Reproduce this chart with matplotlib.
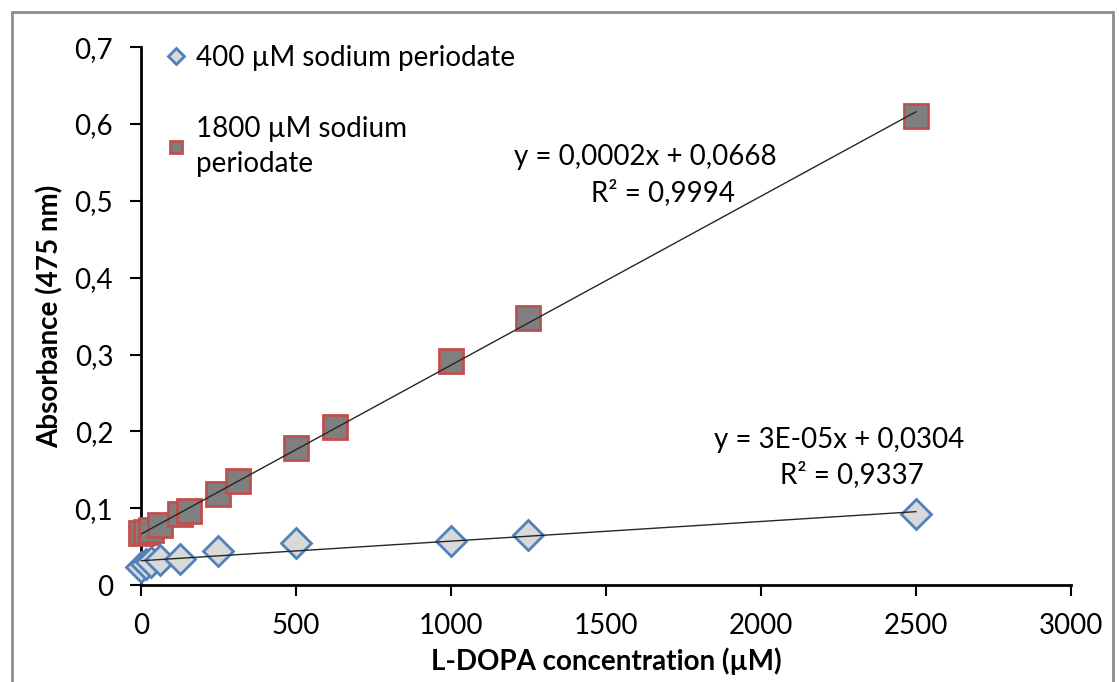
import numpy as np
import matplotlib.pyplot as plt
from matplotlib.patches import Rectangle
from matplotlib.ticker import FuncFormatter, MultipleLocator

plt.rcParams['font.family'] = ['Lato', 'DejaVu Sans']

# L-DOPA concentration (uM) and absorbance at 475 nm
conc_400 = [0, 15.6, 31.25, 62.5, 125, 250, 500, 1000, 1250, 2500]
abs_400 = [0.024, 0.028, 0.030, 0.033, 0.034, 0.045, 0.055, 0.058, 0.065, 0.092]
conc_1800 = [0, 15.6, 31.25, 62.5, 125, 156.25, 250, 312.5, 500, 625, 1000, 1250, 2500]
abs_1800 = [0.068, 0.069, 0.072, 0.078, 0.092, 0.097, 0.119, 0.135, 0.179, 0.206, 0.291, 0.348, 0.610]

label_400 = '400 µM sodium periodate'
label_1800 = '1800 µM sodium\nperiodate'

fig = plt.figure(figsize=(11.19, 6.82), dpi=100)
ax = fig.add_axes([0.126, 0.142, 0.831, 0.789])

# outer chart frame
fig.patches.append(Rectangle((0.011, -0.05), 0.984, 1.032, transform=fig.transFigure,
                             fill=False, edgecolor='#8c8c8c', linewidth=2))

ax.plot(conc_400, abs_400, 'D', markersize=15, markerfacecolor='#d9d9d9',
        markeredgecolor='#4f81bd', markeredgewidth=2, label=label_400, zorder=3, clip_on=False)
ax.plot(conc_1800, abs_1800, 's', markersize=17, markerfacecolor='#7f7f7f',
        markeredgecolor='#c0504d', markeredgewidth=2, label=label_1800, zorder=3, clip_on=False)

# linear trendlines
for xv, yv in ((conc_400, abs_400), (conc_1800, abs_1800)):
    x = np.array(xv, dtype=float)
    k, b = np.polyfit(x, yv, 1)
    xs = np.array([x.min(), x.max()])
    ax.plot(xs, k * xs + b, color='#262626', linewidth=1, zorder=4)

fs = 20
ax.text(1626, 0.557, 'y = 0,0002x + 0,0668', ha='center', va='center', fontsize=fs)
ax.text(1684, 0.511, 'R² = 0,9994', ha='center', va='center', fontsize=fs)
ax.text(2252, 0.189, 'y = 3E-05x + 0,0304', ha='center', va='center', fontsize=fs)
ax.text(2294, 0.144, 'R² = 0,9337', ha='center', va='center', fontsize=fs)

ax.set_xlim(0, 3000)
ax.set_ylim(0, 0.7)
ax.xaxis.set_major_locator(MultipleLocator(500))
ax.yaxis.set_major_locator(MultipleLocator(0.1))
ax.yaxis.set_major_formatter(FuncFormatter(lambda v, p: '0' if abs(v) < 1e-9 else f'{v:.1f}'.replace('.', ',')))
ax.tick_params(labelsize=fs, length=8, width=1.5, direction='out', pad=12)
for s in ('top', 'right'):
    ax.spines[s].set_visible(False)
for s in ('left', 'bottom'):
    ax.spines[s].set_linewidth(2)
ax.margins(0)

ax.set_xlabel('L-DOPA concentration (µM)', fontsize=fs, fontweight='bold', labelpad=6)
ax.set_ylabel('Absorbance (475 nm)', fontsize=fs, fontweight='bold', labelpad=8)

leg = ax.legend(loc='upper left', bbox_to_anchor=(-0.004, 1.05), frameon=False, fontsize=fs,
                markerscale=0.55, handletextpad=0.2, handlelength=1.0, labelspacing=1.6)
for t in leg.get_texts():
    t.set_linespacing(1.45)

fig.savefig('out.png', dpi=100)
